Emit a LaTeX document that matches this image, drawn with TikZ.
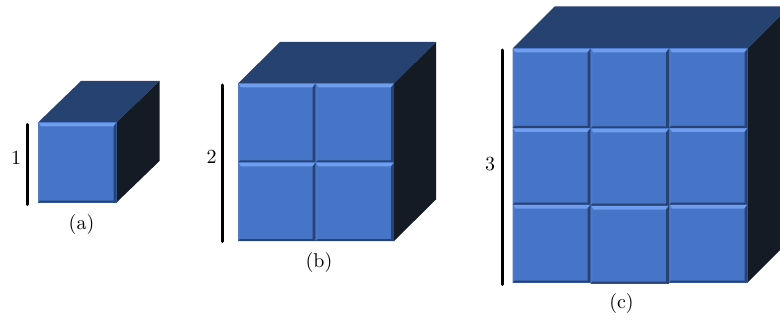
\documentclass[tikz,border=0pt]{standalone}
\usepackage{xcolor}
\usepackage{tikz}
\definecolor{tileblue}{RGB}{70,116,198}
\definecolor{tilelight}{RGB}{112,158,238}
\definecolor{tileside}{RGB}{76,122,204}
\definecolor{tiledark}{RGB}{40,66,116}
\definecolor{cubetop}{RGB}{37,66,112}
\definecolor{cubeside}{RGB}{21,27,36}
\tikzset{
  topface/.style={fill=cubetop},
  sideface/.style={fill=cubeside},
  bar/.style={black, line width=1.5pt, line cap=round},
  lbl/.style={inner sep=0pt, font=\normalsize},
}
% one bevelled tile: left, top, right, bottom
\newcommand{\tile}[4]{
  \fill[tileblue] (#1,#2) rectangle (#3,#4);
  \fill[tilelight] (#1+0.5,#2+0.5) -- (#3-0.5,#2+0.5) -- (#3-3,#2+4) -- (#1+3,#2+4) -- cycle;
  \fill[tileside] (#1,#2) -- (#1+2,#2+3) -- (#1+2,#4-2) -- (#1,#4) -- cycle;
  \fill[tiledark] (#3,#2) -- (#3,#4) -- (#3-3,#4-2) -- (#3-3,#2+4) -- cycle;
  \fill[tiledark] (#1,#4) -- (#3,#4) -- (#3-2,#4-2) -- (#1+2,#4-2) -- cycle;
}
% cube body: left, top, right, bottom, depth in x, depth in y
\newcommand{\cube}[6]{
  \fill[topface] (#1,#2) -- (#1+#5,#2-#6) -- (#3+#5,#2-#6) -- (#3,#2) -- cycle;
  \fill[sideface] (#3,#2) -- (#3+#5,#2-#6) -- (#3+#5,#4-#6) -- (#3,#4) -- cycle;
}
\begin{document}
\begin{tikzpicture}[x=0.5pt, y=-0.5pt]
  \useasboundingbox (0,0) rectangle (780,320);
  \clip (0,0) rectangle (780,320);

  % (a)
  \cube{38}{122.5}{116.5}{202.5}{43}{41.5}
  \tile{38}{122.5}{116.5}{202.5}
  \coordinate (bara1) at (27.5,124.5);
  \coordinate (bara2) at (27.5,204.5);
  \draw[bar] (bara1) -- (bara2);
  \node[lbl] (numa) at (16,158) {1};
  \node[lbl] (capa) at (81.5,224.5) {(a)};

  % (b)
  \cube{238}{83.5}{394}{241}{42}{41.5}
  \foreach \xa/\xb in {238/315.5, 315.5/394}
    \foreach \ya/\yb in {83.5/162.5, 162.5/241}
      {\tile{\xa}{\ya}{\xb}{\yb}}
  \coordinate (barb1) at (222.5,85);
  \coordinate (barb2) at (222.5,241.5);
  \draw[bar] (barb1) -- (barb2);
  \node[lbl] (numb) at (211.5,157) {2};
  \node[lbl] (capb) at (319,262) {(b)};

  % (c)
  \cube{512.5}{48.5}{747.5}{282.5}{42}{42}
  \foreach \xa/\xb in {512.5/590.5, 669/747.5}
    \foreach \ya/\yb in {48.5/128, 128/204.5, 204.5/282.5}
      {\tile{\xa}{\ya}{\xb}{\yb}}
  \foreach \ya/\yb in {48.5/128.5, 128.5/205.5, 205.5/283.5}
    {\tile{590.5}{\ya}{669}{\yb}}
  \coordinate (barc1) at (502.5,50);
  \coordinate (barc2) at (502.5,284.5);
  \draw[bar] (barc1) -- (barc2);
  \node[lbl] (numc) at (490,164) {3};
  \node[lbl] (capc) at (621.5,303.5) {(c)};
\end{tikzpicture}
\end{document}
